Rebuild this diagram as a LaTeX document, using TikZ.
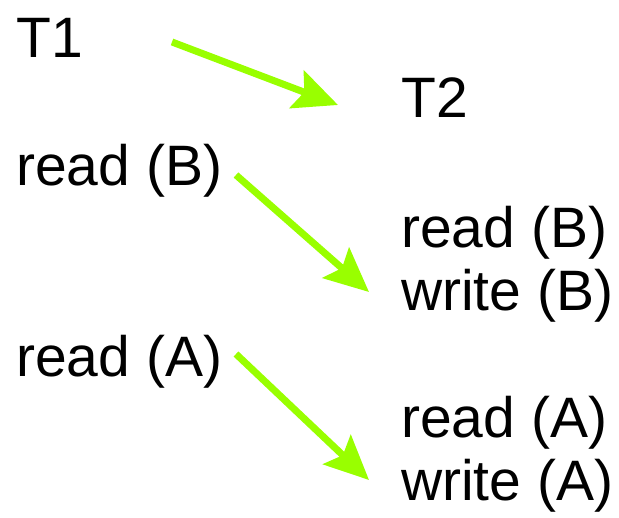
\documentclass[tikz,border=0pt]{standalone}
\usepackage{fontspec}
\setmainfont{Liberation Sans}
\usetikzlibrary{arrows.meta}
\definecolor{arrowgreen}{RGB}{153,255,0}
\begin{document}
\begin{tikzpicture}[x=1pt,y=-1pt,
  lbl/.style={anchor=base west,inner sep=0pt,font=\fontsize{57}{60}\selectfont},
  flow/.style={draw=arrowgreen,line width=7pt,-{Stealth[length=44pt,width=40pt,inset=8pt]}}]
\useasboundingbox (0,0) rectangle (619,518);
\node[lbl] (t1) at (16,58) {T1};
\node[lbl] (t2) at (401,118) {T2};
\node[lbl] (r1b) at (16,186) {read (B)};
\node[lbl] (r2b) at (401,248) {read (B)};
\node[lbl] (w2b) at (401,311) {write (B)};
\node[lbl] (r1a) at (16,377) {read (A)};
\node[lbl] (r2a) at (401,438) {read (A)};
\node[lbl] (w2a) at (401,501) {write (A)};
\coordinate (s1) at (172,42);
\coordinate (e1) at (338,105);
\coordinate (s2) at (236,175);
\coordinate (e2) at (369,292);
\coordinate (s3) at (236,354);
\coordinate (e3) at (369,480);
\draw[flow] (s1) -- (e1);
\draw[flow] (s2) -- (e2);
\draw[flow] (s3) -- (e3);
\end{tikzpicture}
\end{document}
